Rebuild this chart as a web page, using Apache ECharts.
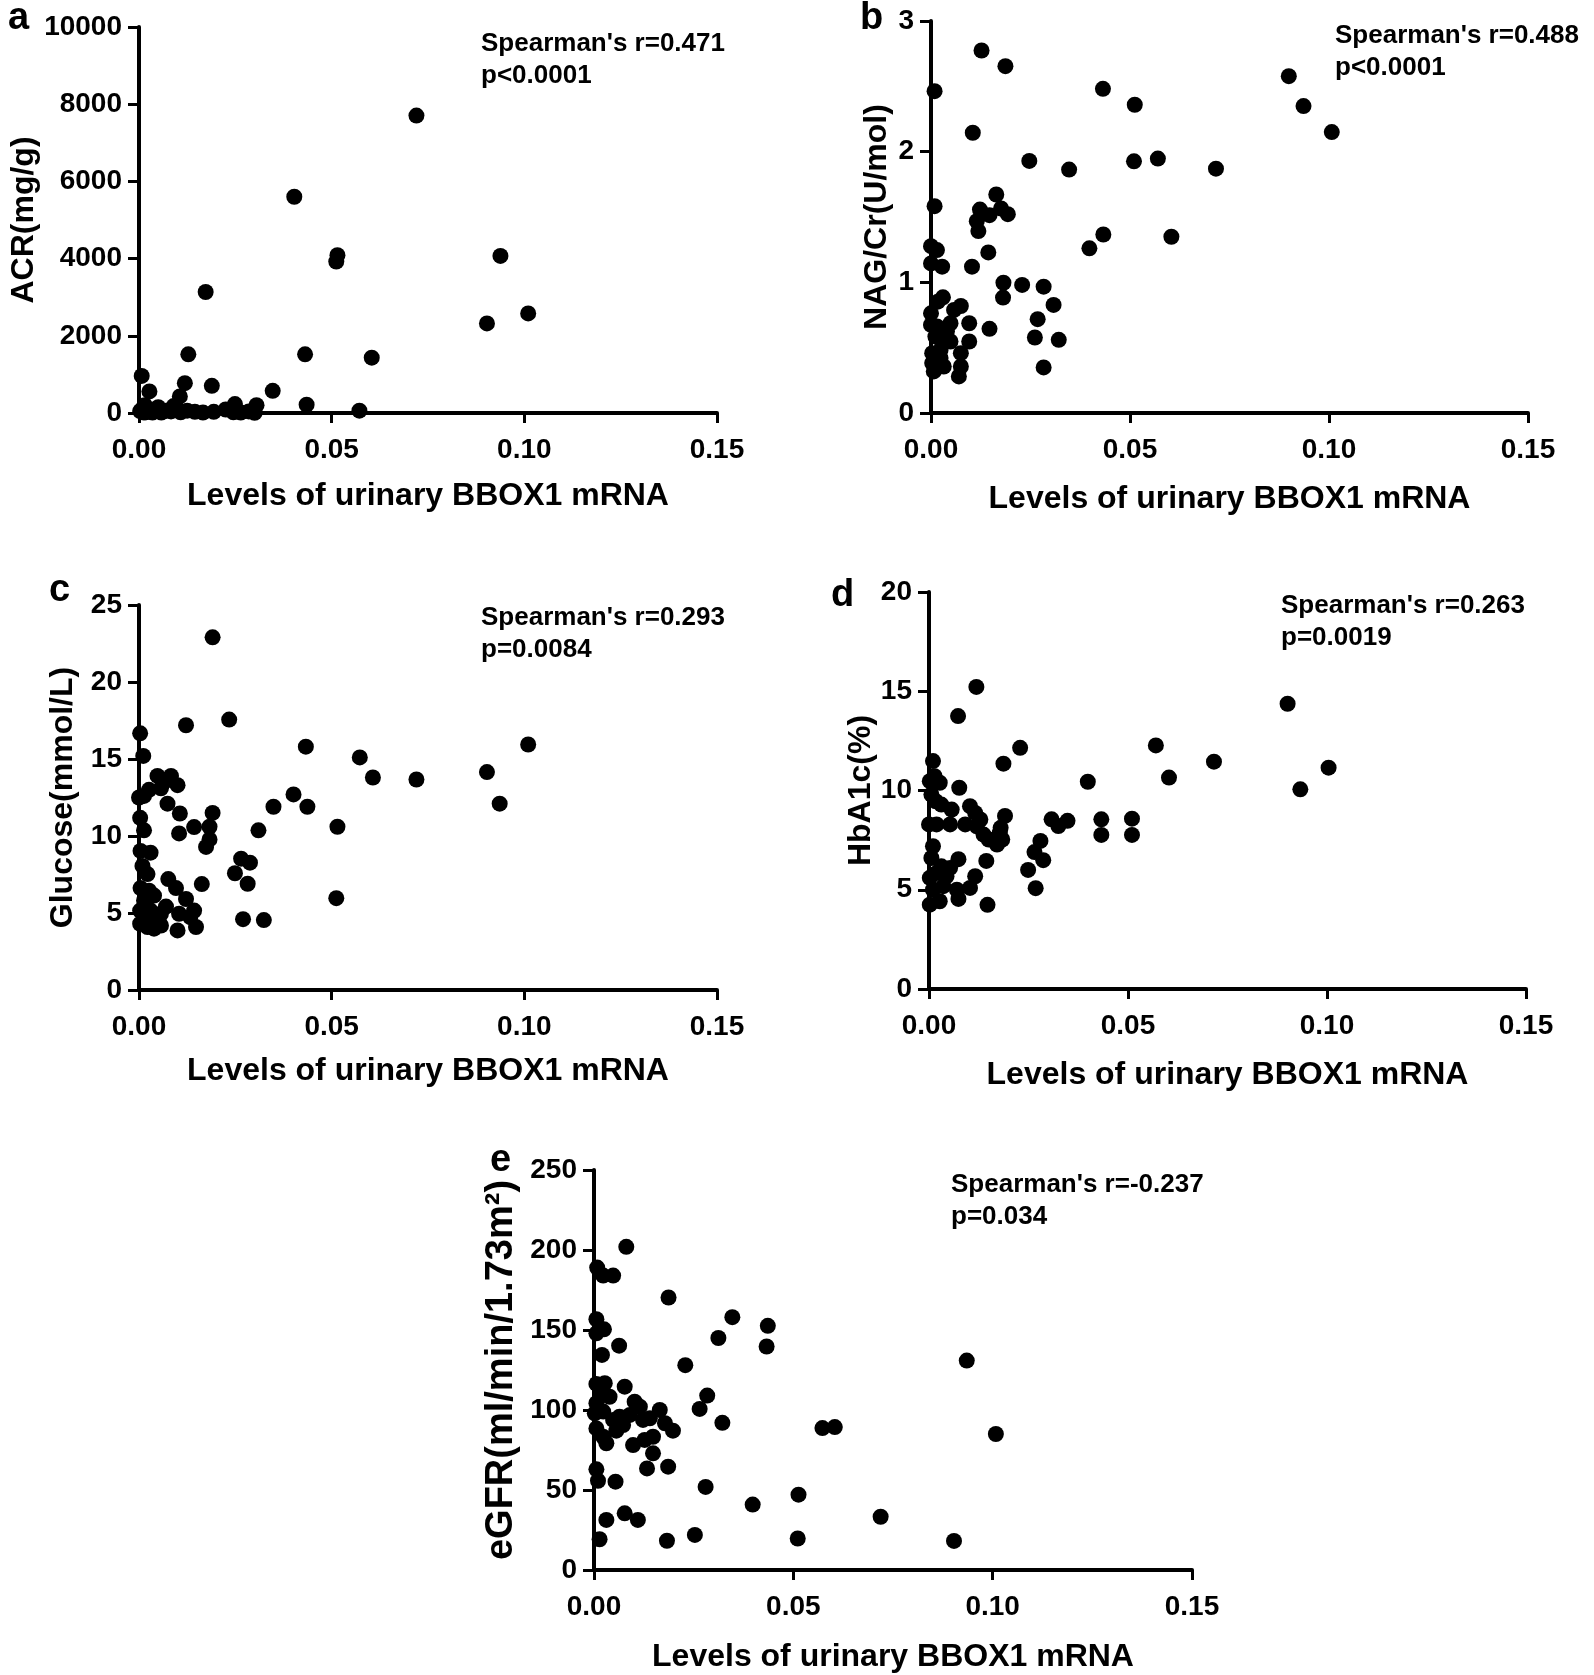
<!DOCTYPE html>
<html>
<head>
<meta charset="utf-8">
<script src="https://cdn.jsdelivr.net/npm/echarts@6/dist/echarts.min.js"></script>
<style>
  html, body { margin: 0; padding: 0; background: #fff; }
  #grafico { width: 1594px; height: 1675px; }
</style>
</head>
<body>
<div id="grafico"></div>
<script>
// [BBOX1 mRNA level, clinical value]
const acrPoints = [
  [0.0007, 961], [0.0027, 558], [0.0128, 1519], [0.0119, 773], [0.0106, 429], [0.0189, 704],
  [0.0347, 575], [0.0431, 1519], [0.0435, 215], [0.0572, 60], [0.0604, 1433], [0.0173, 3134],
  [0.0403, 5602], [0.0515, 4087], [0.0512, 3922], [0.0720, 7706], [0.0903, 2320], [0.0938, 4069],
  [0.1010, 2580], [0.0249, 230], [0.0305, 200],
  [0.0003, 50], [0.0010, 120], [0.0018, 20], [0.0025, 80], [0.0033, 30], [0.0045, 100],
  [0.0058, 10], [0.0070, 60], [0.0083, 40], [0.0096, 150], [0.0108, 20], [0.0125, 60],
  [0.0145, 30], [0.0166, 10], [0.0194, 30], [0.0225, 90], [0.0245, 20], [0.0264, 10],
  [0.0285, 40], [0.0300, 5], [0.0015, 200], [0.0050, 150], [0.0090, 180], [0.0035, 10], [0.0013, 10]
];

const nagPoints = [
  [0.0009, 2.463], [0.0127, 2.774], [0.0187, 2.654], [0.0432, 2.481], [0.0512, 2.359], [0.0899, 2.578],
  [0.0936, 2.349], [0.1007, 2.150], [0.0105, 2.145], [0.0247, 1.929], [0.0347, 1.863], [0.0510, 1.926],
  [0.0570, 1.947], [0.0716, 1.870], [0.0433, 1.366], [0.0398, 1.260], [0.0604, 1.349], [0.0009, 1.583],
  [0.0229, 0.980], [0.0283, 0.967], [0.0308, 0.827], [0.0268, 0.718], [0.0261, 0.578], [0.0321, 0.560],
  [0.0283, 0.349], [0.0164, 1.672], [0.0123, 1.557], [0.0147, 1.514], [0.0176, 1.565], [0.0193, 1.522],
  [0.0115, 1.468], [0.0119, 1.392], [0.0144, 1.229], [0.0103, 1.120], [0.0000, 1.277], [0.0015, 1.247],
  [0.0000, 1.145], [0.0028, 1.120], [0.0182, 0.997], [0.0181, 0.883], [0.0030, 0.885], [0.0017, 0.852],
  [0.0075, 0.819], [0.0058, 0.789], [0.0000, 0.763], [0.0000, 0.674], [0.0049, 0.687], [0.0096, 0.687],
  [0.0147, 0.644], [0.0096, 0.547], [0.0075, 0.458], [0.0075, 0.356], [0.0070, 0.280], [0.0007, 0.318],
  [0.0032, 0.356], [0.0003, 0.458], [0.0024, 0.483], [0.0011, 0.585], [0.0032, 0.585], [0.0049, 0.547],
  [0.0024, 0.420], [0.0003, 0.382], [0.0015, 0.662], [0.0040, 0.623]
];

const glucosePoints = [
  [0.0191, 22.9], [0.0234, 17.56], [0.0122, 17.19], [0.0003, 16.67], [0.0011, 15.2], [0.0433, 15.8],
  [0.0573, 15.1], [0.0607, 13.8], [0.0720, 13.67], [0.0903, 14.15], [0.1010, 15.94], [0.0936, 12.1],
  [0.0401, 12.7], [0.0437, 11.9], [0.0349, 11.9], [0.0310, 10.37], [0.0515, 10.6], [0.0512, 5.96],
  [0.0270, 4.6], [0.0324, 4.54], [0.0249, 7.58], [0.0282, 6.9], [0.0265, 8.53], [0.0288, 8.27],
  [0.0048, 13.9], [0.0083, 13.9], [0.0065, 13.5], [0.0100, 13.3], [0.0057, 13.1], [0.0026, 13.0],
  [0.0013, 12.6], [0.0000, 12.5], [0.0074, 12.1], [0.0106, 11.46], [0.0191, 11.5], [0.0003, 11.18],
  [0.0013, 10.37], [0.0104, 10.17], [0.0143, 10.58], [0.0183, 10.6], [0.0183, 9.78], [0.0174, 9.29],
  [0.0004, 9.03], [0.0030, 8.92], [0.0009, 8.06], [0.0022, 7.53], [0.0076, 7.2], [0.0096, 6.62],
  [0.0122, 5.91], [0.0163, 6.88], [0.0004, 6.62], [0.0026, 6.45], [0.0039, 6.13], [0.0013, 5.81],
  [0.0070, 5.42], [0.0057, 4.95], [0.0030, 5.16], [0.0003, 5.16], [0.0104, 4.95], [0.0143, 5.16],
  [0.0133, 4.73], [0.0013, 4.52], [0.0003, 4.3], [0.0039, 3.98], [0.0057, 4.19], [0.0100, 3.87],
  [0.0148, 4.09], [0.0022, 4.09], [0.0035, 4.62], [0.0048, 4.4]
];

const hba1cPoints = [
  [0.0119, 15.22], [0.0073, 13.75], [0.0901, 14.37], [0.0570, 12.27], [0.0229, 12.15], [0.0187, 11.35],
  [0.0010, 11.48], [0.0716, 11.45], [0.1004, 11.15], [0.0603, 10.65], [0.0399, 10.44], [0.0933, 10.06],
  [0.0076, 10.14], [0.0433, 8.55], [0.0433, 7.76], [0.0510, 8.58], [0.0510, 7.76], [0.0308, 8.55],
  [0.0325, 8.21], [0.0348, 8.47], [0.0280, 7.46], [0.0249, 6.0], [0.0265, 6.9], [0.0287, 6.49],
  [0.0268, 5.08], [0.0147, 4.24], [0.0191, 8.72], [0.0178, 7.88], [0.0144, 6.45], [0.0074, 6.54],
  [0.0002, 10.47], [0.0014, 10.72], [0.0027, 10.39], [0.0006, 9.8], [0.0017, 9.46], [0.0031, 9.29],
  [0.0057, 9.04], [0.0103, 9.21], [0.0116, 8.87], [0.0129, 8.54], [0.0091, 8.29], [0.0120, 8.2],
  [0.0137, 7.78], [0.0150, 7.53], [0.0171, 7.28], [0.0184, 7.53], [0.0180, 8.12], [0.0000, 8.29],
  [0.0019, 8.29], [0.0053, 8.29], [0.0010, 7.19], [0.0006, 6.6], [0.0031, 6.18], [0.0053, 6.1],
  [0.0019, 5.85], [0.0044, 5.68], [0.0002, 5.6], [0.0116, 5.68], [0.0103, 5.09], [0.0010, 5.0],
  [0.0036, 5.18], [0.0070, 5.0], [0.0074, 4.54], [0.0027, 4.42], [0.0002, 4.25]
];

const egfrPoints = [
  [0.0008, 189], [0.0023, 184], [0.0048, 184], [0.0081, 202],
  [0.0187, 170.3], [0.0347, 158], [0.0436, 152.6], [0.0312, 145], [0.0433, 139.7], [0.0229, 128],
  [0.0935, 130.9], [0.0284, 109], [0.0265, 100.7], [0.0322, 92], [0.0573, 88.7], [0.0604, 89.3],
  [0.1008, 85], [0.0280, 51.9], [0.0398, 40.9], [0.0513, 47.1], [0.0719, 33.3], [0.0903, 18.2],
  [0.0511, 19.7],
  [0.0006, 156.7], [0.0025, 150.4], [0.0006, 147.9], [0.0063, 140.2], [0.0020, 134.4], [0.0006, 116.3],
  [0.0027, 116.7], [0.0077, 114.6], [0.0018, 110.4], [0.0039, 108.3], [0.0102, 105.2], [0.0115, 102.1],
  [0.0165, 100], [0.0006, 104.2], [0.0002, 97.9], [0.0023, 99], [0.0064, 95.8], [0.0090, 96.9],
  [0.0048, 93.8], [0.0073, 90.6], [0.0123, 93.8], [0.0140, 94.8], [0.0178, 91.7], [0.0198, 87.1],
  [0.0006, 88.5], [0.0023, 83.3], [0.0031, 79.2], [0.0056, 87.1], [0.0098, 78.1], [0.0127, 81.3],
  [0.0148, 83.3], [0.0148, 72.9], [0.0133, 63.5], [0.0186, 64.6], [0.0006, 62.9], [0.0010, 55.8],
  [0.0054, 55.2], [0.0031, 31.3], [0.0077, 35.4], [0.0110, 31.3], [0.0014, 19.2], [0.0183, 18.3],
  [0.0253, 21.9]
];

const xName = "Levels of urinary BBOX1 mRNA";

const fonte = "Liberation Sans";

// posicoes de cada painel
const paineis = [
  { letra: "a", dados: acrPoints, yMax: 10000, yStep: 2000, yName: "ACR(mg/g)",
    grid: { left: 139, top: 27, width: 578, height: 386 }, yGap: 97, xGap: 67, yNameSize: 32,
    letraPos: [8, 19], texto: ["Spearman's r=0.471", "p<0.0001"], textoPos: [481, 44] },
  { letra: "b", dados: nagPoints, yMax: 3, yStep: 1, yName: "NAG/Cr(U/mol)",
    grid: { left: 931, top: 21, width: 597, height: 392 }, yGap: 38, xGap: 70, yNameSize: 32,
    letraPos: [860, 19], texto: ["Spearman's r=0.488", "p<0.0001"], textoPos: [1335, 36] },
  { letra: "c", dados: glucosePoints, yMax: 25, yStep: 5, yName: "Glucose(mmol/L)",
    grid: { left: 139, top: 605, width: 578, height: 385 }, yGap: 60, xGap: 65, yNameSize: 32,
    letraPos: [49, 591], texto: ["Spearman's r=0.293", "p=0.0084"], textoPos: [481, 618] },
  { letra: "d", dados: hba1cPoints, yMax: 20, yStep: 5, yName: "HbA1c(%)",
    grid: { left: 929, top: 592, width: 597, height: 397 }, yGap: 49, xGap: 70, yNameSize: 32,
    letraPos: [831, 596], texto: ["Spearman's r=0.263", "p=0.0019"], textoPos: [1281, 606] },
  { letra: "e", dados: egfrPoints, yMax: 250, yStep: 50, yName: "eGFR(ml/min/1.73m²)",
    grid: { left: 594, top: 1170, width: 598, height: 400 }, yGap: 73, xGap: 71, yNameSize: 38,
    letraPos: [490, 1161], texto: ["Spearman's r=-0.237", "p=0.034"], textoPos: [951, 1185] }
];

let myChart = echarts.init(document.getElementById("grafico"), null, { renderer: "canvas" });

let grids = [], xAxes = [], yAxes = [], series = [], graphic = [];

paineis.forEach((p, i) => {
  grids.push(Object.assign({ containLabel: false, outerBoundsMode: "none" }, p.grid));

  xAxes.push({
    type: "value",
    gridIndex: i,
    min: 0,
    max: 0.15,
    interval: 0.05,
    name: xName,
    nameLocation: "middle",
    nameGap: p.xGap,
    nameTextStyle: { fontFamily: fonte, fontWeight: "bold", fontSize: 32, color: "#000" },
    axisLine: { show: true, onZero: false, lineStyle: { color: "#000", width: 4 } },
    axisTick: { show: true, inside: false, length: 10, lineStyle: { color: "#000", width: 3 } },
    axisLabel: {
      show: true, margin: 23, color: "#000", fontFamily: fonte, fontWeight: "bold", fontSize: 28,
      formatter: v => v.toFixed(2)
    },
    splitLine: { show: false }
  });

  yAxes.push({
    type: "value",
    gridIndex: i,
    min: 0,
    max: p.yMax,
    interval: p.yStep,
    name: p.yName,
    nameLocation: "middle",
    nameGap: p.yGap,
    nameRotate: 90,
    nameTextStyle: { fontFamily: fonte, fontWeight: "bold", fontSize: p.yNameSize, color: "#000" },
    axisLine: { show: true, onZero: false, lineStyle: { color: "#000", width: 4 } },
    axisTick: { show: true, inside: false, length: 11, lineStyle: { color: "#000", width: 3 } },
    axisLabel: {
      show: true, margin: 17, color: "#000", fontFamily: fonte, fontWeight: "bold", fontSize: 28,
      formatter: v => String(v)
    },
    splitLine: { show: false }
  });

  series.push({
    type: "scatter",
    xAxisIndex: i,
    yAxisIndex: i,
    data: p.dados,
    symbol: "circle",
    symbolSize: 16,
    clip: false,
    itemStyle: { color: "#000", opacity: 1 },
    z: 5
  });

  graphic.push({
    type: "text",
    x: p.letraPos[0],
    y: p.letraPos[1],
    style: { text: p.letra, fill: "#000", font: "bold 38px '" + fonte + "'", verticalAlign: "middle" }
  });
  p.texto.forEach((t, k) => {
    graphic.push({
      type: "text",
      x: p.textoPos[0],
      y: p.textoPos[1] + k * 32,
      style: { text: t, fill: "#000", font: "bold 26px '" + fonte + "'", verticalAlign: "middle" }
    });
  });
});

let option = {
  backgroundColor: "#fff",
  animation: false,
  grid: grids,
  xAxis: xAxes,
  yAxis: yAxes,
  series: series,
  graphic: graphic
};

option && myChart.setOption(option);
</script>
</body>
</html>
